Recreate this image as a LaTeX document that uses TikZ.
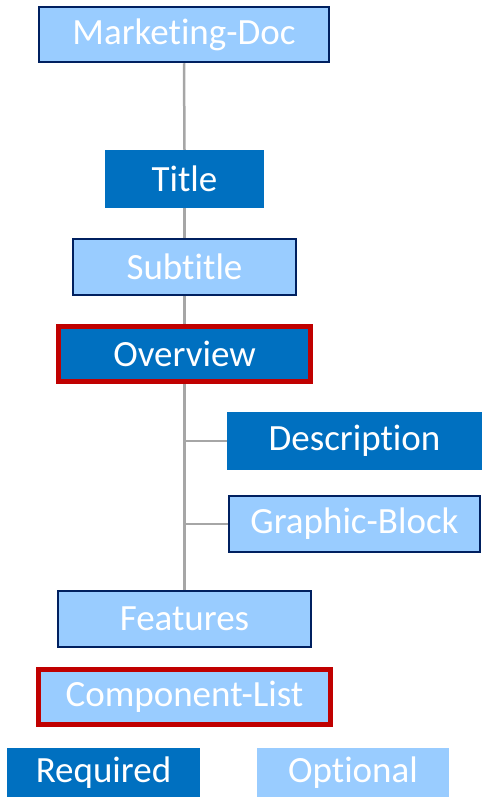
\documentclass[tikz,border=0pt]{standalone}
\usepackage{fontspec}
\setmainfont{Carlito}[Ligatures={NoCommon}]
\usepackage{xcolor}
\definecolor{reqblue}{HTML}{0070C0}
\definecolor{optblue}{HTML}{99CCFF}
\definecolor{navy}{HTML}{002060}
\definecolor{mandred}{HTML}{C00000}
\definecolor{trunkgray}{HTML}{A6A6A6}

\tikzset{
  box/.style={inner sep=0pt, text=white, font=\fontsize{37}{37}\selectfont},
  required/.style={box, fill=reqblue},
  optional/.style={box, fill=optblue, draw=navy, line width=2.5pt},
  flagged/.style={draw=mandred, line width=5pt},
  link/.style={draw=trunkgray, line width=2.5pt}
}

\begin{document}
\begin{tikzpicture}[x=1pt, y=-1pt]
  \useasboundingbox (0,0) rectangle (482,797);

  % Tree boxes
  \node[optional, minimum width=290pt, minimum height=55pt] (doc) at (184,34.5) {Marketing-Doc};
  \node[required, minimum width=159pt, minimum height=58pt] (title) at (184.5,179) {Title};
  \node[optional, minimum width=223pt, minimum height=56pt] (subtitle) at (184.5,267) {Subtitle};
  \node[required, flagged, minimum width=252pt, minimum height=55pt] (overview) at (184.5,354) {Overview};
  \node[required, minimum width=255pt, minimum height=58pt] (description) at (354.5,441) {Description};
  \node[optional, minimum width=251pt, minimum height=56pt] (graphic) at (354.5,524) {Graphic-Block};
  \node[optional, minimum width=253pt, minimum height=56pt] (features) at (184.5,619) {Features};
  \node[optional, flagged, minimum width=292pt, minimum height=55pt] (components) at (184.5,697) {Component-List};

  % Legend
  \node[required, minimum width=193pt, minimum height=49pt] (legreq) at (103.5,772.5) {Required};
  \node[optional, draw=none, minimum width=192pt, minimum height=49pt] (legopt) at (353,772.5) {Optional};

  % Connectors
  \draw[link] (doc.south) -- (title.north);
  \draw[link] (title.south) -- (subtitle.north);
  \draw[link] (subtitle.south) -- (overview.north);
  \draw[link] (overview.south) -- (features.north);
  \draw[link] (overview.south |- description.west) -- (description.west);
  \draw[link] (overview.south |- graphic.west) -- (graphic.west);
\end{tikzpicture}
\end{document}
